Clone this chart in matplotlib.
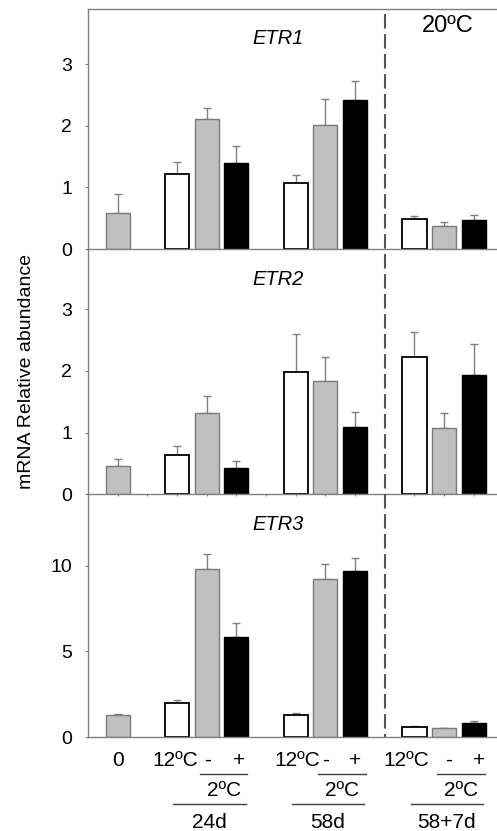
import matplotlib
matplotlib.use("Agg")
import matplotlib.pyplot as plt
from matplotlib import transforms
from matplotlib.lines import Line2D

plt.rcParams["font.family"] = ["Liberation Sans", "DejaVu Sans"]

# ---- data -------------------------------------------------------------
genes = ["ETR1", "ETR2", "ETR3"]
treatment_labels = ["0", "12ºC", "-", "+", "12ºC", "-", "+", "12ºC", "-", "+"]
bar_kind = ["cold", "ctrl", "cold", "trt", "ctrl", "cold", "trt", "ctrl", "cold", "trt"]
group_sizes = [1, 3, 3, 3]
group_names = ["24d", "58d", "58+7d"]
temp_label = "2ºC"
recovery_label = "20ºC"
ylabel = "mRNA Relative abundance"

etr1_mean = [0.59, 1.22, 2.11, 1.40, 1.08, 2.02, 2.42, 0.49, 0.37, 0.47]
etr1_err = [0.30, 0.20, 0.18, 0.27, 0.13, 0.42, 0.31, 0.05, 0.07, 0.09]
etr2_mean = [0.46, 0.64, 1.31, 0.43, 1.99, 1.84, 1.09, 2.23, 1.08, 1.94]
etr2_err = [0.12, 0.15, 0.28, 0.11, 0.61, 0.38, 0.25, 0.40, 0.23, 0.50]
etr3_mean = [1.28, 1.98, 9.81, 5.83, 1.32, 9.22, 9.71, 0.60, 0.52, 0.85]
etr3_err = [0.08, 0.18, 0.87, 0.85, 0.11, 0.87, 0.72, 0.08, 0.04, 0.10]

means = [etr1_mean, etr2_mean, etr3_mean]
errs = [etr1_err, etr2_err, etr3_err]
y_ticks = [[0, 1, 2, 3], [0, 1, 2, 3], [0, 5, 10]]
y_tops = [3.90, 3.976, 14.16]

# ---- styles -----------------------------------------------------------
face = {"cold": "#c0c0c0", "ctrl": "white", "trt": "black"}
edge = {"cold": "#7a7a7a", "ctrl": "black", "trt": "black"}
spine_c = "#808080"
fs_tick = 14
fs_gene = 14.5
fs_cat = 15

# bar slots: one empty slot between groups
x = []
cur = 0
for n in group_sizes:
    x.extend(range(cur, cur + n))
    cur += n + 1

W, H = 497, 831
fig = plt.figure(figsize=(W / 100, H / 100), dpi=100)

# axes rows in pixel space (top, bottom)
rows = [(9, 249), (249, 494.3), (494.3, 737.3)]
left_px = 88
axes = []
for i, (top, bot) in enumerate(rows):
    ax = fig.add_axes([left_px / W, 1 - bot / H, 1 - left_px / W, (bot - top) / H])
    axes.append(ax)
    cols_f = [face[k] for k in bar_kind]
    cols_e = [edge[k] for k in bar_kind]
    lws = [1.3 if k == "ctrl" else 1.0 for k in bar_kind]
    ax.bar(x, means[i], width=0.81, color=cols_f, edgecolor=cols_e,
           linewidth=lws, zorder=2)
    ax.errorbar(x, means[i], yerr=[[0] * len(x), errs[i]], fmt="none",
                ecolor="#808080", elinewidth=1.0, capsize=3, capthick=1.0,
                zorder=1)
    ax.set_xlim(-1, 12.78)
    ax.set_ylim(0, y_tops[i])
    ax.set_yticks(y_ticks[i])
    ax.tick_params(axis="y", direction="out", length=2.5, width=0.8,
                   color=spine_c, labelsize=fs_tick, pad=9)
    if i == 1:
        ax.set_xticks(range(0, 13))
        ax.tick_params(axis="x", direction="out", length=1.5, width=0.8,
                       color=spine_c, labelbottom=False)
    else:
        ax.set_xticks([])
    ax.spines["right"].set_visible(False)
    if i > 0:
        ax.spines["top"].set_visible(False)
    for s in ["left", "bottom", "top"]:
        ax.spines[s].set_color(spine_c)
        ax.spines[s].set_linewidth(1.0)
    ax.patch.set_alpha(0)
    # gene name
    ax.text(4.55, 0.875, genes[i], transform=transforms.blended_transform_factory(
        ax.transData, ax.transAxes), ha="left", va="center",
        style="italic", fontsize=fs_gene)

axes[0].text(11.13, 0.929, recovery_label,
             transform=transforms.blended_transform_factory(
                 axes[0].transData, axes[0].transAxes),
             ha="center", va="center", fontsize=17)

fig.text(27 / W, 1 - 371.5 / H, ylabel, rotation=90, ha="center",
         va="center", fontsize=14)

# dashed separator before the 20ºC recovery group
sep = transforms.blended_transform_factory(axes[0].transData, fig.transFigure)
fig.add_artist(Line2D([9, 9], [1 - 14 / H, 1 - 737 / H], transform=sep,
                      color="#555555", lw=1.5, dashes=(7, 2.6)))

# category labels and brackets under the bottom panel
ax3 = axes[2]
bt = transforms.blended_transform_factory(ax3.transData, fig.transFigure)
label_shift = [0, -0.06, 0.04, 0.09, 0.04, 0.02, 0.0, -0.29, 0.14, 0.18]
for xi, lab, dx in zip(x, treatment_labels, label_shift):
    fig.text(xi + dx, 1 - 760 / H, lab, transform=bt, ha="center",
             va="center", fontsize=fs_cat)

start = group_sizes[0]
for g, name in enumerate(group_names):
    x12, xm, xp = x[start + 3 * g: start + 3 * g + 3]
    fig.add_artist(Line2D([xm - 0.24, xp + 0.36], [1 - 773.5 / H] * 2,
                          transform=bt, color="#404040", lw=1.0))
    fig.add_artist(Line2D([x12 - 0.12, xp + 0.31], [1 - 803.5 / H] * 2,
                          transform=bt, color="#404040", lw=1.0))
    fig.text(xm + 0.57, 1 - 791 / H, temp_label, transform=bt,
             ha="center", va="center", fontsize=fs_cat)
    fig.text(xm + 0.08, 1 - 822 / H, name, transform=bt,
             ha="center", va="center", fontsize=fs_cat)

fig.savefig("out.png", dpi=100)
